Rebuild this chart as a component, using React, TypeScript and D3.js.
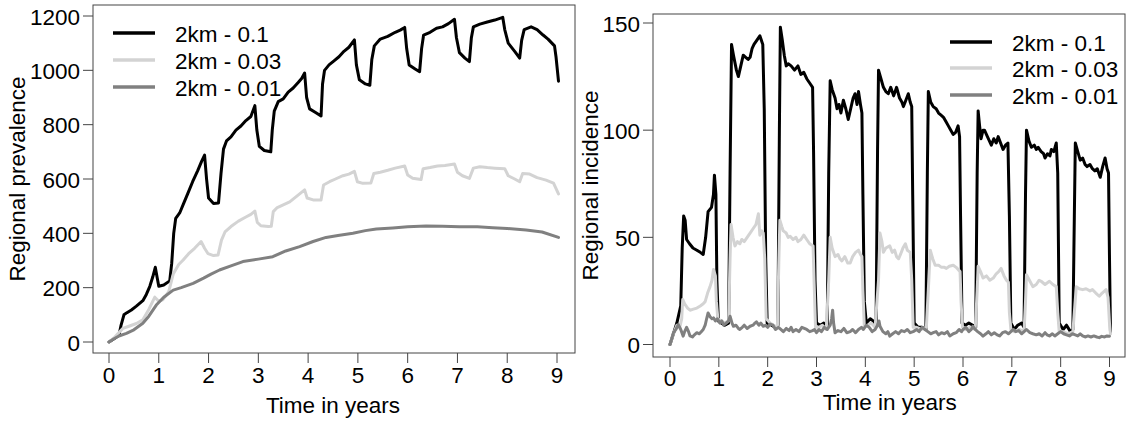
import React from "react";
import * as d3 from "d3";

type P = [number, number];

const seriesNames = ["2km - 0.1", "2km - 0.03", "2km - 0.01"];
const seriesColors = ["#000000", "#d3d3d3", "#808080"];
const xTicks = [0, 1, 2, 3, 4, 5, 6, 7, 8, 9];
const prevTicks = [0, 200, 400, 600, 800, 1000, 1200];
const incTicks = [0, 50, 100, 150];

// Regional prevalence (time in years, value)
const prevHigh: P[] = [[0,0],[0.1,12],[0.2,25],[0.24,60],[0.3,100],[0.36,108],[0.45,118],[0.55,132],[0.68,152],[0.75,175],[0.82,205],[0.88,240],[0.93,275],[0.97,235],[1.0,205],[1.1,210],[1.22,225],[1.26,290],[1.3,400],[1.34,455],[1.42,475],[1.5,510],[1.58,545],[1.68,590],[1.78,630],[1.86,665],[1.92,688],[1.96,600],[2.0,530],[2.1,510],[2.2,512],[2.25,620],[2.3,710],[2.36,740],[2.45,755],[2.55,780],[2.65,795],[2.75,815],[2.85,830],[2.93,870],[2.97,780],[3.02,720],[3.12,705],[3.25,700],[3.28,780],[3.32,850],[3.4,885],[3.5,895],[3.6,920],[3.7,935],[3.8,955],[3.87,970],[3.93,990],[3.97,900],[4.03,858],[4.15,845],[4.26,832],[4.29,950],[4.33,1000],[4.42,1020],[4.52,1035],[4.62,1050],[4.72,1070],[4.82,1085],[4.93,1112],[4.97,1020],[5.03,965],[5.15,950],[5.24,945],[5.28,1040],[5.33,1090],[5.45,1115],[5.6,1125],[5.75,1140],[5.85,1148],[5.94,1158],[5.98,1080],[6.03,1020],[6.15,1005],[6.24,995],[6.28,1080],[6.32,1130],[6.45,1140],[6.58,1155],[6.7,1160],[6.82,1172],[6.94,1188],[6.98,1120],[7.04,1065],[7.15,1045],[7.24,1032],[7.28,1120],[7.32,1160],[7.45,1170],[7.6,1178],[7.75,1185],[7.91,1195],[7.95,1150],[8.02,1100],[8.15,1070],[8.25,1045],[8.29,1110],[8.34,1150],[8.48,1160],[8.6,1150],[8.72,1130],[8.82,1115],[8.95,1090],[8.98,1050],[9.03,960]];
const prevMid: P[] = [[0,0],[0.1,15],[0.2,35],[0.28,50],[0.4,58],[0.55,68],[0.68,82],[0.8,120],[0.92,165],[1.0,150],[1.08,155],[1.2,185],[1.29,250],[1.4,285],[1.49,302],[1.6,325],[1.72,345],[1.85,370],[1.92,345],[1.99,325],[2.1,318],[2.19,320],[2.26,375],[2.33,405],[2.45,425],[2.6,445],[2.75,460],[2.85,470],[2.93,482],[2.98,440],[3.05,428],[3.2,425],[3.26,426],[3.3,480],[3.38,495],[3.5,505],[3.63,516],[3.78,538],[3.93,560],[3.98,530],[4.1,523],[4.26,523],[4.31,578],[4.43,590],[4.55,600],[4.7,612],[4.82,618],[4.93,628],[4.99,590],[5.1,584],[5.26,585],[5.32,620],[5.45,625],[5.6,632],[5.75,640],[5.94,648],[6.0,615],[6.1,603],[6.27,598],[6.31,638],[6.45,642],[6.6,648],[6.75,650],[6.94,655],[7.0,625],[7.1,612],[7.24,602],[7.32,640],[7.45,645],[7.6,642],[7.75,640],[7.95,638],[8.02,612],[8.15,600],[8.25,590],[8.31,620],[8.45,618],[8.6,605],[8.78,596],[8.93,585],[9.03,545]];
const prevLow: P[] = [[0,0],[0.1,12],[0.2,22],[0.35,32],[0.5,45],[0.68,69],[0.8,95],[0.95,136],[1.1,165],[1.29,191],[1.45,200],[1.69,216],[1.9,235],[2.05,250],[2.22,265],[2.45,280],[2.69,296],[3.0,305],[3.29,314],[3.55,335],[3.83,351],[4.1,370],[4.36,385],[4.6,392],[4.9,400],[5.15,410],[5.37,416],[5.7,420],[6.0,424],[6.37,427],[6.7,426],[7.04,424],[7.4,424],[7.71,421],[8.0,418],[8.38,412],[8.7,405],[9.03,385]];

// Regional incidence (time in years, value)
const incHigh: P[] = [[0,0],[0.07,5],[0.14,10],[0.22,18],[0.25,45],[0.28,60],[0.31,58],[0.34,49],[0.4,47],[0.47,45],[0.55,44],[0.62,43],[0.68,42],[0.73,50],[0.78,62],[0.85,64],[0.89,70],[0.91,79],[0.94,70],[0.96,30],[0.99,11],[1.05,10],[1.12,9],[1.2,10],[1.23,80],[1.26,140],[1.3,135],[1.36,128],[1.4,125],[1.45,130],[1.5,135],[1.55,134],[1.6,133],[1.64,134],[1.68,138],[1.72,140],[1.78,142],[1.84,144],[1.9,140],[1.93,110],[1.96,40],[1.99,10],[2.08,9],[2.15,8],[2.21,9],[2.24,100],[2.26,148],[2.3,142],[2.34,135],[2.38,130],[2.42,131],[2.48,130],[2.55,128],[2.62,130],[2.68,126],[2.74,127],[2.8,124],[2.86,122],[2.92,120],[2.94,90],[2.97,30],[3.0,10],[3.08,9],[3.15,10],[3.22,8],[3.25,80],[3.28,123],[3.32,119],[3.38,115],[3.42,110],[3.46,112],[3.5,108],[3.55,114],[3.6,110],[3.65,105],[3.7,110],[3.75,115],[3.79,117],[3.83,112],[3.86,118],[3.9,112],[3.93,108],[3.95,70],[3.98,20],[4.02,10],[4.1,12],[4.16,11],[4.22,9],[4.25,90],[4.27,128],[4.32,124],[4.37,120],[4.42,118],[4.47,117],[4.52,120],[4.58,116],[4.64,120],[4.7,115],[4.75,113],[4.78,111],[4.83,114],[4.88,117],[4.92,113],[4.95,111],[4.97,70],[5.0,10],[5.08,8],[5.16,8],[5.24,7],[5.27,80],[5.29,118],[5.34,113],[5.39,111],[5.45,110],[5.5,108],[5.55,107],[5.6,106],[5.65,104],[5.7,102],[5.75,100],[5.8,98],[5.85,99],[5.9,102],[5.93,97],[5.95,60],[5.98,10],[6.05,9],[6.12,10],[6.2,9],[6.26,8],[6.29,80],[6.31,109],[6.34,102],[6.37,96],[6.41,100],[6.44,100],[6.5,97],[6.54,95],[6.58,93],[6.63,96],[6.68,94],[6.72,97],[6.77,94],[6.82,91],[6.87,93],[6.92,94],[6.95,60],[6.98,10],[7.05,7],[7.12,9],[7.2,10],[7.25,8],[7.28,70],[7.3,100],[7.35,95],[7.4,92],[7.46,93],[7.5,91],[7.54,92],[7.6,90],[7.65,89],[7.68,87],[7.73,89],[7.78,88],[7.81,91],[7.86,90],[7.91,94],[7.94,80],[7.97,10],[8.05,7],[8.12,9],[8.2,6],[8.25,7],[8.28,60],[8.3,94],[8.35,90],[8.4,86],[8.45,87],[8.5,84],[8.54,83],[8.6,84],[8.65,82],[8.7,81],[8.75,82],[8.81,78],[8.86,83],[8.91,87],[8.95,82],[8.98,80],[9.0,40],[9.02,6]];
const incMid: P[] = [[0,0],[0.07,5],[0.14,9],[0.2,8],[0.24,12],[0.26,21],[0.3,19],[0.36,17],[0.41,16],[0.48,16.5],[0.55,17],[0.62,18],[0.68,19],[0.72,20],[0.77,24],[0.82,27],[0.86,30],[0.89,35],[0.93,32],[0.95,20],[0.98,12],[1.05,11],[1.12,10],[1.2,11],[1.23,40],[1.25,56],[1.29,50],[1.33,46],[1.38,48],[1.43,47],[1.47,49],[1.52,48],[1.58,50],[1.64,52],[1.7,54],[1.76,56],[1.81,61],[1.84,51],[1.88,53],[1.91,52],[1.94,40],[1.97,12],[2.05,10],[2.12,9],[2.2,8],[2.23,40],[2.25,58],[2.29,55],[2.32,53],[2.38,52],[2.42,50],[2.46,50.5],[2.52,49],[2.58,50],[2.62,48],[2.68,49],[2.74,51],[2.8,49],[2.86,47],[2.93,46],[2.95,30],[2.98,8],[3.05,8],[3.12,9],[3.2,7],[3.25,30],[3.28,50],[3.32,45],[3.38,41],[3.44,42],[3.48,40],[3.52,39],[3.58,41],[3.64,38],[3.69,38],[3.74,41],[3.8,43],[3.86,44],[3.9,42],[3.93,41],[3.95,25],[3.98,8],[4.05,9],[4.12,10],[4.2,8],[4.27,30],[4.3,52],[4.34,48],[4.37,43],[4.42,45],[4.5,46],[4.55,43],[4.6,44],[4.64,41],[4.68,40],[4.72,42],[4.77,45],[4.82,47],[4.86,44],[4.92,43],[4.95,30],[4.98,8],[5.05,8],[5.15,7],[5.25,8],[5.3,30],[5.33,44],[5.38,40],[5.43,37],[5.5,37],[5.56,36],[5.62,36],[5.66,35.5],[5.72,36.5],[5.8,37],[5.86,36],[5.94,34],[5.96,20],[5.99,8],[6.05,7],[6.15,8],[6.25,7],[6.29,25],[6.31,36.5],[6.36,34],[6.41,31],[6.48,32],[6.55,30],[6.62,31],[6.68,33],[6.73,34],[6.78,35.5],[6.84,32],[6.89,30],[6.93,29],[6.95,15],[6.98,7],[7.05,6],[7.15,7],[7.25,6],[7.28,20],[7.3,32.6],[7.36,30],[7.43,27],[7.5,28],[7.56,30],[7.6,29.5],[7.68,28],[7.77,29.5],[7.84,28],[7.91,27],[7.94,15],[7.97,6],[8.05,6],[8.15,5],[8.25,6],[8.29,18],[8.32,27],[8.38,26],[8.45,25.6],[8.52,26],[8.6,25],[8.65,25.6],[8.72,24],[8.79,22.5],[8.85,24],[8.93,25.6],[8.97,22],[9.0,10],[9.02,5]];
const incLow: P[] = [[0,0],[0.04,3],[0.07,5.4],[0.12,7],[0.17,9.3],[0.22,7],[0.27,3.9],[0.3,6],[0.34,8],[0.38,6],[0.41,4],[0.46,3.5],[0.5,4.5],[0.55,5.5],[0.6,5],[0.64,6],[0.68,7],[0.72,9],[0.75,12],[0.78,14.7],[0.82,13],[0.86,12],[0.89,12.4],[0.93,11],[0.97,12],[1.02,10],[1.06,11],[1.1,9],[1.15,10],[1.2,11],[1.23,13.2],[1.27,10],[1.3,8.5],[1.35,9],[1.4,7.5],[1.43,7],[1.48,8],[1.52,9],[1.58,7.5],[1.64,8.5],[1.7,9],[1.74,10],[1.77,10.6],[1.82,9],[1.86,10],[1.91,8.5],[1.96,9],[2.0,8],[2.05,9.5],[2.11,9],[2.16,7],[2.22,8],[2.27,7],[2.32,6],[2.38,7.5],[2.44,6.5],[2.48,8],[2.52,6],[2.58,7],[2.64,6],[2.7,8],[2.75,7.5],[2.8,7],[2.86,6],[2.92,6.5],[2.96,7],[3.0,5.5],[3.05,7],[3.1,6],[3.16,8],[3.22,7],[3.28,9],[3.31,12],[3.33,16],[3.35,10],[3.38,5.5],[3.44,6.5],[3.5,6],[3.56,7.5],[3.62,5.5],[3.69,6],[3.74,7],[3.8,5.5],[3.86,7],[3.92,8],[3.96,7],[4.02,9],[4.08,8],[4.14,6],[4.2,7],[4.25,9],[4.28,11],[4.3,8.5],[4.36,6],[4.42,5],[4.46,6],[4.5,3.9],[4.56,5],[4.62,6],[4.68,5],[4.74,6.5],[4.8,6],[4.86,7],[4.92,5.5],[4.98,6],[5.05,7],[5.1,6],[5.16,8],[5.22,7],[5.28,6],[5.34,5],[5.39,5.5],[5.45,6],[5.5,4.5],[5.56,5.5],[5.62,5],[5.68,6],[5.73,4],[5.8,5],[5.86,5.5],[5.92,7],[5.97,6],[6.0,7],[6.06,8],[6.12,6],[6.17,7],[6.2,8.5],[6.25,7],[6.3,6],[6.36,5],[6.41,3.9],[6.47,5],[6.52,6],[6.58,4.5],[6.64,5.5],[6.7,4.5],[6.75,4],[6.81,5.5],[6.87,6],[6.93,5],[6.98,6],[7.03,7],[7.08,6],[7.14,6.5],[7.2,5],[7.25,6],[7.3,7],[7.37,5.5],[7.43,5],[7.5,4.5],[7.56,5],[7.62,4],[7.68,5.5],[7.72,4.5],[7.77,4],[7.83,5],[7.88,4],[7.94,5],[8.0,6],[8.06,5],[8.12,4.5],[8.18,4],[8.24,5],[8.3,4.5],[8.35,4],[8.4,5],[8.45,4],[8.5,3.5],[8.56,4],[8.62,3.5],[8.68,4],[8.74,3.5],[8.79,3.2],[8.84,3.8],[8.9,3.5],[8.95,4],[9.0,3.9]];

const FONT = "'Liberation Sans', Arial, sans-serif";
const FS = 22.5;
const AXIS = "#444";

type PanelProps = {
  box: { x: number; y: number; w: number; h: number };
  xRange: [number, number];
  yRange: [number, number];
  yDomain: [number, number];
  yTicks: number[];
  series: P[][];
  yTitle: string;
  yTitleX: number;
  xLabelBase: number;
  xTitleBase: number;
  legend: { x: number; rows: number[] };
};

function Panel(p: PanelProps) {
  const x = d3.scaleLinear().domain([0, 9]).range(p.xRange);
  const y = d3.scaleLinear().domain(p.yDomain).range(p.yRange);
  const line = d3
    .line<P>()
    .x((d) => x(d[0]))
    .y((d) => y(d[1]));
  const { box } = p;
  const bottom = box.y + box.h;
  const yMid = box.y + box.h / 2;
  const xMid = (p.xRange[0] + p.xRange[1]) / 2;
  return (
    <g fontFamily={FONT} fontSize={FS} fill="#000">
      <rect x={box.x} y={box.y} width={box.w} height={box.h} fill="none" stroke={AXIS} strokeWidth={1} />
      {xTicks.map((t) => (
        <g key={"x" + t}>
          <line x1={x(t)} x2={x(t)} y1={bottom} y2={bottom + 10} stroke={AXIS} />
          <text x={x(t)} y={p.xLabelBase} textAnchor="middle">{t}</text>
        </g>
      ))}
      {p.yTicks.map((t) => (
        <g key={"y" + t}>
          <line x1={box.x - 10} x2={box.x} y1={y(t)} y2={y(t)} stroke={AXIS} />
          <text x={box.x - 13} y={y(t) + 8.5} textAnchor="end">{t}</text>
        </g>
      ))}
      <text x={xMid} y={p.xTitleBase} textAnchor="middle">Time in years</text>
      <text transform={`translate(${p.yTitleX},${yMid}) rotate(-90)`} textAnchor="middle">{p.yTitle}</text>
      {p.series.map((s, i) => (
        <path key={"s" + i} d={line(s) || ""} fill="none" stroke={seriesColors[i]} strokeWidth={3} strokeLinejoin="round" strokeLinecap="round" />
      ))}
      {seriesNames.map((n, i) => (
        <g key={"l" + i}>
          <line x1={p.legend.x} x2={p.legend.x + 42} y1={p.legend.rows[i]} y2={p.legend.rows[i]} stroke={seriesColors[i]} strokeWidth={3.5} />
          <text x={p.legend.x + 62} y={p.legend.rows[i] + 8.5}>{n}</text>
        </g>
      ))}
    </g>
  );
}

export default function App() {
  return (
    <svg width={1128} height={421} style={{ position: "absolute", left: 0, top: 0, background: "#fff" }}>
      <rect x={0} y={0} width={1128} height={421} fill="#fff" />
      <Panel
        box={{ x: 93, y: 5, w: 482, h: 348 }}
        xRange={[109, 557]}
        yRange={[342, 16]}
        yDomain={[0, 1200]}
        yTicks={prevTicks}
        series={[prevHigh, prevMid, prevLow]}
        yTitle="Regional prevalence"
        yTitleX={25}
        xLabelBase={383}
        xTitleBase={413}
        legend={{ x: 113, rows: [33, 60, 87] }}
      />
      <Panel
        box={{ x: 653, y: 14, w: 472, h: 343 }}
        xRange={[670, 1109.5]}
        yRange={[344.5, 23]}
        yDomain={[0, 150]}
        yTicks={incTicks}
        series={[incHigh, incMid, incLow]}
        yTitle="Regional incidence"
        yTitleX={598}
        xLabelBase={386}
        xTitleBase={410}
        legend={{ x: 950, rows: [42, 68, 95] }}
      />
    </svg>
  );
}
